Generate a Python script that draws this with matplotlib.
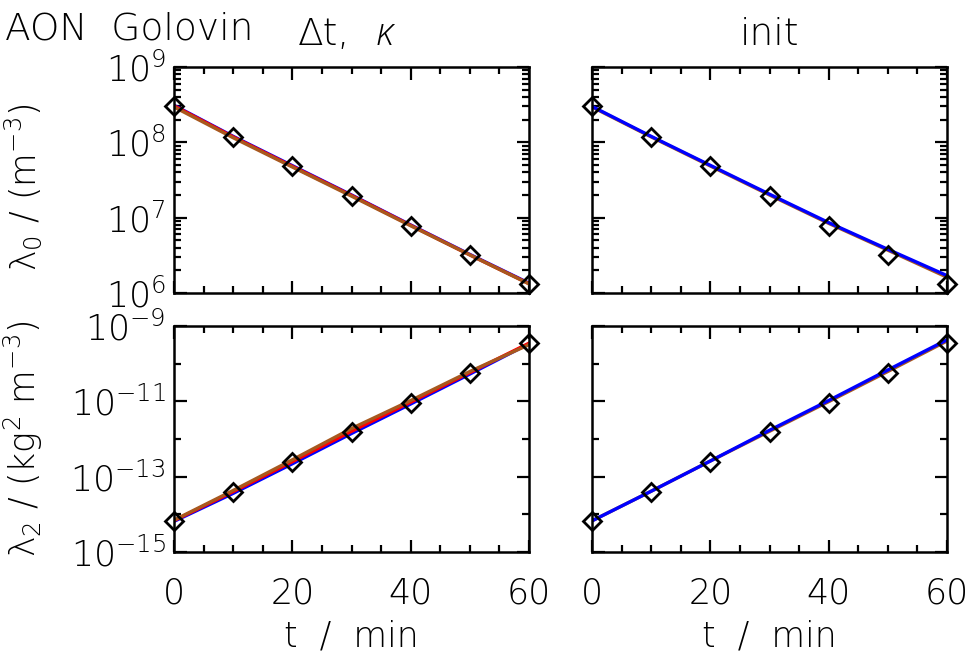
import matplotlib
matplotlib.use('Agg')
import matplotlib.pyplot as plt
from matplotlib.ticker import FixedLocator, MultipleLocator, LogLocator, NullFormatter

# observed (diamonds) and model lines, t in minutes
t_obs = [0, 10, 20, 30, 40, 50, 60]
lam0_obs = [3.0e8, 1.17e8, 4.8e7, 1.96e7, 7.8e6, 3.2e6, 1.3e6]
lam2_obs = [6.7e-15, 4.0e-14, 2.5e-13, 1.55e-12, 9.0e-12, 5.6e-11, 3.5e-10]

t_line = [0, 10, 20, 30, 40, 50, 60]
# left column: dt, kappa variations
lam0_blue_l = [3.1e8, 1.2e8, 4.9e7, 2.0e7, 8.0e6, 3.25e6, 1.35e6]
lam0_red_l = [3.05e8, 1.18e8, 4.8e7, 1.97e7, 7.9e6, 3.2e6, 1.33e6]
lam0_brown_l = [2.95e8, 1.15e8, 4.7e7, 1.93e7, 7.8e6, 3.2e6, 1.32e6]
lam2_blue_l = [6.5e-15, 3.6e-14, 2.2e-13, 1.4e-12, 8.5e-12, 5.3e-11, 3.4e-10]
lam2_red_l = [6.8e-15, 4.0e-14, 2.5e-13, 1.6e-12, 9.5e-12, 5.8e-11, 3.5e-10]
lam2_brown_l = [7.0e-15, 4.3e-14, 2.8e-13, 1.9e-12, 1.05e-11, 6.2e-11, 3.2e-10]
# right column: init variations
lam0_blue_r = [3.0e8, 1.2e8, 4.95e7, 2.05e7, 8.6e6, 3.8e6, 1.7e6]
lam0_brown_r = [2.95e8, 1.18e8, 4.85e7, 2.0e7, 8.4e6, 3.7e6, 1.62e6]
lam2_blue_r = [6.7e-15, 4.1e-14, 2.6e-13, 1.7e-12, 1.05e-11, 6.8e-11, 4.3e-10]
lam2_brown_r = [6.7e-15, 4.1e-14, 2.6e-13, 1.6e-12, 9.8e-12, 6.2e-11, 4.0e-10]

blue = '#0000ff'
red = '#ff0000'
brown = '#a8581e'

plt.rcParams['font.family'] = ['DejaVu Sans']
plt.rcParams['font.weight'] = 'light'
plt.rcParams['axes.labelweight'] = 'light'
plt.rcParams['mathtext.fontset'] = 'custom'
plt.rcParams['mathtext.rm'] = 'DejaVu Sans:light'
plt.rcParams['mathtext.it'] = 'DejaVu Sans:italic:light'

fs = 25

fig = plt.figure(figsize=(9.7, 6.55), dpi=100)
w, h = 0.366, 0.345
ax_tl = fig.add_axes([0.1794, 0.5527, w, h])
ax_tr = fig.add_axes([0.6103, 0.5527, w, h])
ax_bl = fig.add_axes([0.1794, 0.1573, w, h])
ax_br = fig.add_axes([0.6103, 0.1573, w, h])

lw = 2.4
ax_tl.plot(t_line, lam0_blue_l, color=blue, lw=lw)
ax_tl.plot(t_line, lam0_red_l, color=red, lw=lw)
ax_tl.plot(t_line, lam0_brown_l, color=brown, lw=lw)

ax_bl.plot(t_line, lam2_blue_l, color=blue, lw=lw)
ax_bl.plot(t_line, lam2_red_l, color=red, lw=lw)
ax_bl.plot(t_line, lam2_brown_l, color=brown, lw=lw)

ax_tr.plot(t_line, lam0_brown_r, color=brown, lw=lw)
ax_tr.plot(t_line, lam0_blue_r, color=blue, lw=lw)
ax_br.plot(t_line, lam2_brown_r, color=brown, lw=lw)
ax_br.plot(t_line, lam2_blue_r, color=blue, lw=lw)

for ax in (ax_tl, ax_tr):
    ax.plot(t_obs, lam0_obs, 'D', ms=9, mfc='none', mec='black', mew=2, clip_on=False)
    ax.set_yscale('log')
    ax.set_ylim(1e6, 1e9)
    ax.yaxis.set_major_locator(LogLocator(base=10, numticks=10))
    ax.yaxis.set_minor_locator(LogLocator(base=10, subs=range(2, 10), numticks=20))
for ax in (ax_bl, ax_br):
    ax.plot(t_obs, lam2_obs, 'D', ms=9, mfc='none', mec='black', mew=2, clip_on=False)
    ax.set_yscale('log')
    ax.set_ylim(1e-15, 1e-9)
    ax.yaxis.set_major_locator(FixedLocator([1e-15, 1e-13, 1e-11, 1e-9]))
    ax.yaxis.set_minor_locator(FixedLocator([1e-14, 1e-12, 1e-10]))
    ax.yaxis.set_minor_formatter(NullFormatter())

for ax in (ax_tl, ax_tr, ax_bl, ax_br):
    ax.set_xlim(0, 60)
    ax.xaxis.set_major_locator(MultipleLocator(20))
    ax.xaxis.set_minor_locator(MultipleLocator(5))
    ax.tick_params(which='both', direction='in', top=True, right=True, width=1.6)
    ax.tick_params(which='major', length=9, labelsize=fs)
    ax.tick_params(which='minor', length=5)
    ax.tick_params(axis='x', pad=18)
    ax.tick_params(axis='y', pad=6)
    for s in ax.spines.values():
        s.set_linewidth(1.8)

for ax in (ax_tl, ax_tr):
    ax.tick_params(labelbottom=False)
for ax in (ax_tr, ax_br):
    ax.tick_params(labelleft=False)

for ax in (ax_bl, ax_br):
    ax.set_xlabel('t  /  min', fontsize=fs, fontweight='light', labelpad=6)

fig.text(0.024, 0.715, 'λ$_0$ / (m$^{-3}$)', rotation=90, fontsize=fs,
         ha='center', va='center')
fig.text(0.024, 0.33, 'λ$_2$ / (kg$^2$ m$^{-3}$)', rotation=90, fontsize=fs,
         ha='center', va='center')

fig.text(0.005, 1 - 40 / 655, 'AON  Golovin', fontsize=27, ha='left', va='baseline')
fig.text(298 / 970, 1 - 45 / 655, 'Δt,', fontsize=27, ha='left', va='baseline')
fig.text(376 / 970, 1 - 45 / 655, 'κ', fontsize=28, fontstyle='italic', fontweight='light',
         family=['Open Sans', 'DejaVu Sans'], ha='left', va='baseline')
fig.text(770 / 970, 1 - 45 / 655, 'init', fontsize=27, ha='center', va='baseline')

fig.savefig('out.png', dpi=100)
